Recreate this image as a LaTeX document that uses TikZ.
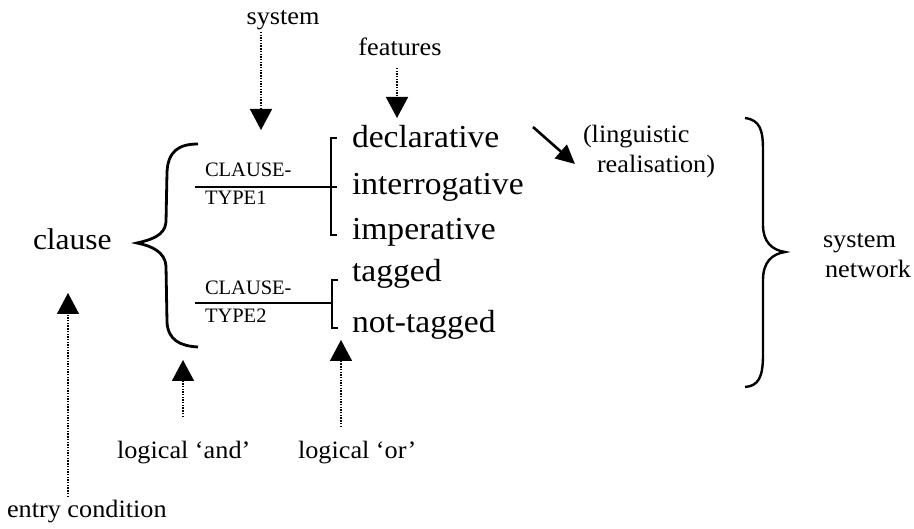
\documentclass[tikz,border=0pt]{standalone}
\usepackage{fontspec}
\setmainfont{Liberation Serif}
\newfontfamily\widefont[FakeStretch=1.05]{Liberation Serif}
\usetikzlibrary{arrows.meta}
\tikzset{
  txt/.style={inner sep=0pt, outer sep=0pt},
  small/.style={txt, font=\widefont\fontsize{25}{27}\selectfont},
  feat/.style={txt, anchor=base west, font=\widefont\fontsize{32}{34}\selectfont},
  entry/.style={txt, anchor=base west, font=\widefont\fontsize{30}{32}\selectfont},
  sysname/.style={txt, anchor=base west, font=\fontsize{20.5}{22}\selectfont},
  solidline/.style={line width=2.8pt},
  bracket/.style={line width=2.8pt, line join=miter},
  pointer/.style={line width=1.5pt, dash pattern=on 1.4pt off 1.3pt,
    -{Triangle[length=21pt,width=22pt]}},
  realarrow/.style={line width=2.6pt, -{Triangle[length=19pt,width=18pt]}},
}
\begin{document}
\begin{tikzpicture}[x=1pt,y=-1pt]
\useasboundingbox (0,0) rectangle (914,529);

% entry feature and the features of the two systems
\node[entry] (clause) at (33,250) {clause};
\node[feat] (decl)   at (352,148) {declarative};
\node[feat] (interr) at (352,195) {interrogative};
\node[feat] (imper)  at (352,240) {imperative};
\node[feat] (tagged) at (352,282) {tagged};
\node[feat] (ntag)   at (352,333) {not-tagged};

% system names
\node[sysname] (s1a) at (205,177) {CLAUSE-};
\node[sysname] (s1b) at (205,205) {TYPE1};
\node[sysname] (s2a) at (205,295) {CLAUSE-};
\node[sysname] (s2b) at (205,323) {TYPE2};

% logical 'and' brace
\draw[solidline] (198,144) .. controls (178,144) and (168,152) .. (167,172)
  -- (166,222) .. controls (165,236) and (150,240) .. (137,243)
  .. controls (152,246) and (165,252) .. (166,266)
  -- (167,322) .. controls (168,340) and (180,346) .. (198,347);

% first system: entry line and 'or' bracket
\coordinate (l1s) at (195,187);
\coordinate (l1e) at (337,187);
\coordinate (b1t) at (331,138);
\coordinate (b1b) at (331,235);
\draw[solidline] (l1s) -- (l1e);
\draw[bracket] ([xshift=6pt]b1t) -- (b1t) -- (b1b) -- ([xshift=6pt]b1b);

% second system
\coordinate (l2s) at (195,303);
\coordinate (l2e) at (332,303);
\coordinate (b2t) at (332,280);
\coordinate (b2b) at (332,328);
\draw[solidline] (l2s) -- (l2e);
\draw[bracket] ([xshift=6pt]b2t) -- (b2t) -- (b2b) -- ([xshift=6pt]b2b);

% explanatory labels
\node[small, anchor=base] (lsys)  at (283,25) {system};
\node[small, anchor=base] (lfeat) at (400,56) {features};
\node[small, anchor=base west] (land)  at (117,459) {logical ‘and’};
\node[small, anchor=base west] (lor)   at (298,459) {logical ‘or’};
\node[small, anchor=base west] (lentry) at (7,518) {entry condition};
\node[small, anchor=base west] (lreal1) at (583,143) {(linguistic};
\node[small, anchor=base west] (lreal2) at (597,173) {realisation)};
\node[small, anchor=base west] (lnet1) at (823,248) {system};
\node[small, anchor=base west] (lnet2) at (825,278) {network};

% dotted pointers
\coordinate (psys0) at (261,32);   \coordinate (psys1) at (261,130);
\coordinate (pfeat0) at (397,68);  \coordinate (pfeat1) at (397,118);
\coordinate (pand0) at (183,417);  \coordinate (pand1) at (183,360);
\coordinate (por0) at (341,427);   \coordinate (por1) at (341,340);
\coordinate (pent0) at (68,497);   \coordinate (pent1) at (68,293);
\draw[pointer] (psys0) -- (psys1);
\draw[pointer] (pfeat0) -- (pfeat1);
\draw[pointer] (pand0) -- (pand1);
\draw[pointer] (por0) -- (por1);
\draw[pointer] (pent0) -- (pent1);

% realisation arrow
\coordinate (r0) at (533,127);
\coordinate (r1) at (575,164);
\draw[realarrow] (r0) -- (r1);

% brace grouping the whole system network
\draw[line width=2.4pt] (745,118) .. controls (760,120) and (763,130) .. (763,150)
  -- (763,225) .. controls (763,242) and (772,250) .. (785,252)
  .. controls (772,254) and (763,262) .. (763,280)
  -- (763,355) .. controls (763,378) and (758,386) .. (745,387);
\end{tikzpicture}
\end{document}
